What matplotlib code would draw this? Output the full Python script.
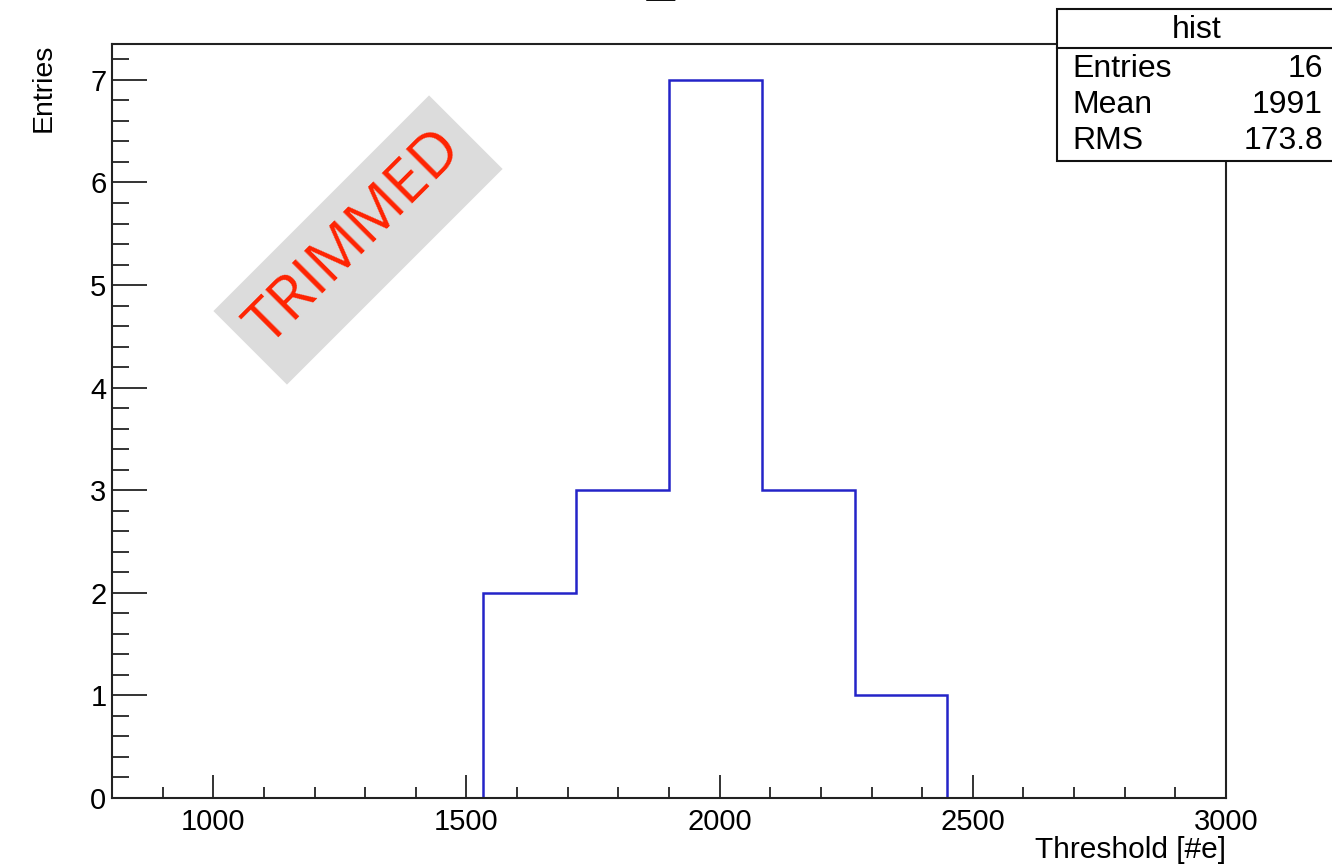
import numpy as np
import matplotlib
matplotlib.use("Agg")
import matplotlib.pyplot as plt
from matplotlib.patches import Rectangle
from matplotlib.ticker import MultipleLocator

plt.rcParams['font.family'] = ['Liberation Sans', 'DejaVu Sans']

# threshold histogram (bin edges and counts)
bin_edges = [1533, 1716.4, 1899.8, 2083.2, 2266.6, 2450]
counts = [2, 3, 7, 3, 1]

stats_title = 'hist'
stats_names = ['Entries', 'Mean', 'RMS']
stats_values = ['16', '1991', '173.8']

W, H = 1332, 866
fig = plt.figure(figsize=(W / 100, H / 100), dpi=100)
ax = fig.add_axes([112 / W, 1 - 798 / H, (1226 - 112) / W, (798 - 44) / H])

# outline: drop to zero at both ends like a ROOT histogram
xs = [bin_edges[0]]
ys = [0]
for i, c in enumerate(counts):
    xs += [bin_edges[i], bin_edges[i + 1]]
    ys += [c, c]
xs.append(bin_edges[-1])
ys.append(0)
ax.plot(xs, ys, color='#2424c8', lw=1.8, solid_joinstyle='miter')

ax.set_xlim(800, 3000)
ax.set_ylim(0, max(counts) * 1.05)

ax.xaxis.set_major_locator(MultipleLocator(500))
ax.xaxis.set_minor_locator(MultipleLocator(100))
ax.yaxis.set_major_locator(MultipleLocator(1))
ax.yaxis.set_minor_locator(MultipleLocator(0.2))

ax.tick_params(axis='both', which='both', direction='in', width=1.4,
               color='#333333', labelsize=21, top=False, right=False)
ax.tick_params(axis='x', which='major', length=16.5, pad=7)
ax.tick_params(axis='x', which='minor', length=8)
ax.tick_params(axis='y', which='major', length=25, pad=4)
ax.tick_params(axis='y', which='minor', length=12.5)
for s in ax.spines.values():
    s.set_linewidth(1.5)
    s.set_color('#222222')

ax.set_xlabel('Threshold [#e]', fontsize=21.5, loc='right', labelpad=0)
ax.set_ylabel('Entries', fontsize=20.5, loc='top', labelpad=24)

# cropped title underscore at the top edge
fig.text(661 / W, 1 + 9 / H, '_', fontsize=36, ha='center', va='baseline',
         color='#111111')

# stats box
bx0, by0, bx1, by1, hy = 1057, 9, 1345, 161, 48
fig.add_artist(Rectangle((bx0 / W, 1 - by1 / H), (bx1 - bx0) / W, (by1 - by0) / H,
                         transform=fig.transFigure, facecolor='white',
                         edgecolor='#111111', lw=1.5, zorder=5))
fig.add_artist(plt.Line2D([bx0 / W, bx1 / W], [1 - hy / H, 1 - hy / H],
                          transform=fig.transFigure, color='#111111', lw=1.5, zorder=6))
fig.text(1197 / W, 1 - 30 / H, stats_title, fontsize=23, ha='center', va='center', zorder=7)
for i, (n, v) in enumerate(zip(stats_names, stats_values)):
    y = 1 - (69 + i * 36) / H
    fig.text(1072 / W, y, n, fontsize=23, ha='left', va='center', zorder=7)
    fig.text(1323 / W, y, v, fontsize=23, ha='right', va='center', zorder=7)

# watermark banner
cx, cy = 358, 240
ang = np.deg2rad(45)
L, S = 305, 104
ux, uy = np.cos(ang), np.sin(ang)
vx, vy = -np.sin(ang), np.cos(ang)
corners = []
for a, b in [(-1, -1), (1, -1), (1, 1), (-1, 1)]:
    px = cx + a * L / 2 * ux + b * S / 2 * vx
    py = (H - cy) + a * L / 2 * uy + b * S / 2 * vy
    corners.append((px / W, py / H))
fig.add_artist(plt.Polygon(corners, closed=True, transform=fig.transFigure,
                           facecolor='#dcdcdc', edgecolor='none', zorder=8))
fig.text(355 / W, 1 - 238 / H, 'TRIMMED', fontsize=44, color='#ff2200',
         family=['Open Sans', 'DejaVu Sans'], rotation=45,
         rotation_mode='anchor', ha='center', va='center', zorder=9)

fig.savefig('out.png', dpi=100)
